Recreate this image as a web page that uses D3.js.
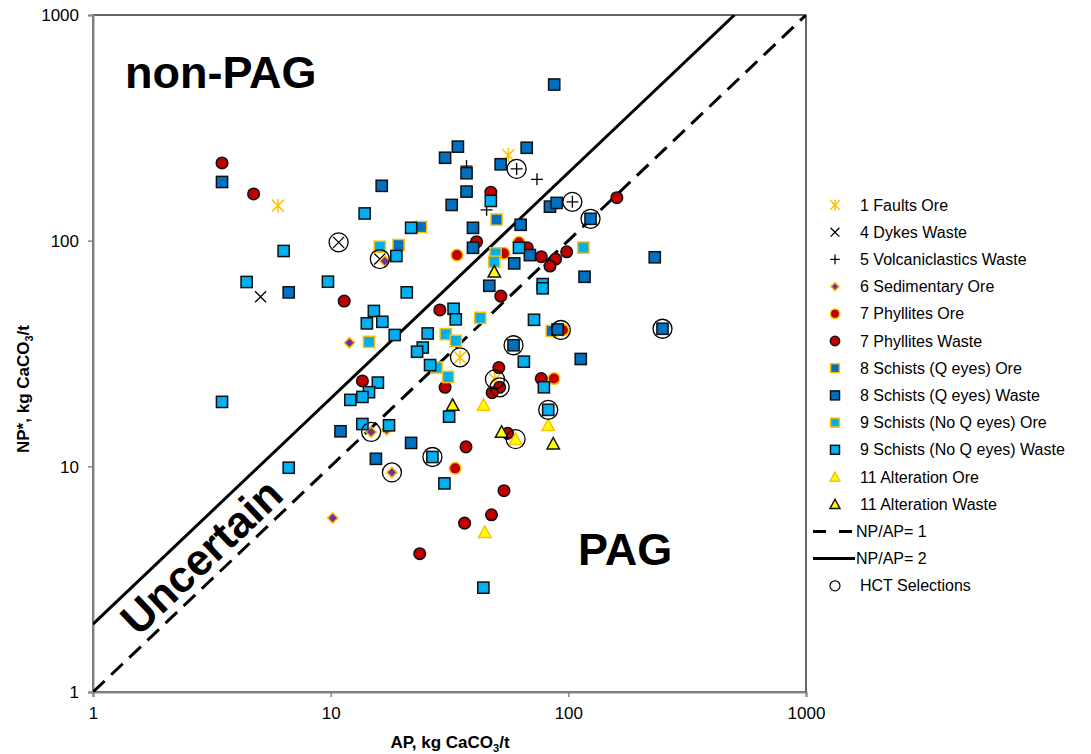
<!DOCTYPE html>
<html><head><meta charset="utf-8">
<script src="https://cdn.jsdelivr.net/npm/d3@7"></script>
<style>
body{margin:0;background:#fff;}
text{font-family:"Liberation Sans",Arial,sans-serif;}
</style></head>
<body><svg id="c" width="1091" height="754"></svg>
<script>
// ---- data (AP, NP*) in kg CaCO3/t ----
const faultsOre = [[6.0,143],[55.9,239],[35,30.4],[49.1,24.3]];
const dykesWaste = [[5.07,56.4],[10.8,98.3],[16.1,82.9]];
const volcWaste = [[60.6,208],[73.8,187],[37.3,214],[45.3,137],[104,148.6]];
const sedOre = [[16.9,81.2],[12,35.3],[14.8,14.2],[17.2,14.5],[18.1,9.4],[10.2,5.9]];
const phylOre = [[34,86.3],[53.6,87.9],[62,98.3],[94.9,40.2],[87,24.5],[33.4,9.8]];
const phylWaste = [[3.49,221],[4.74,161],[47.2,164],[41.1,98.9],[67.2,93],[76.9,84.9],[88.4,82.9],[83.7,77.2],[98.4,89.3],[160,155],[11.4,54],[28.8,49.3],[52,56.8],[30.3,22.4],[13.6,23.9],[51,27.4],[51.4,22.4],[47.8,21.2],[76.9,24.5],[55.5,14],[37.1,12.2],[53.6,7.8],[47.5,6.1],[36.6,5.6],[23.7,4.1]];
const schQOre = [[49.9,124],[24,115],[19.3,95.6],[85.1,39.8]];
const schQWaste = [[3.49,182],[6.66,59],[87.2,492],[34.3,261],[30.3,233],[66.8,258],[51.9,218],[37.3,199],[37.3,165],[16.4,175],[32.3,144],[39.7,114],[63,117.6],[39.7,93],[68.9,86.3],[59.2,79.3],[83.7,141.5],[89.3,147],[124,125],[231,84.4],[117,69.2],[249,40.7],[112.8,29.9],[90.1,40.4],[46.5,63.1],[58.8,34.4],[11,14.3],[21.8,12.7],[15.5,10.8]];
const schNQOre = [[16.1,94],[49.4,87.9],[48.8,80.7],[115.7,93.2],[14.5,35.6],[42.6,45.5],[30.5,38.5],[33.6,36],[27.9,27.4],[31.2,24.9]];
const schNQWaste = [[6.34,90],[4.43,65.6],[9.74,65.8],[3.49,19.3],[6.66,9.86],[47.2,150],[13.9,132],[21.8,114],[18.9,85.5],[62,93],[20.9,59],[32.9,49.9],[33.6,44.8],[15.2,48.8],[14.2,43],[16.5,43.7],[18.6,38.2],[71.7,44.6],[78,64.2],[78,61.5],[25.6,38.8],[24.4,33.6],[23.1,32.2],[26.2,28.1],[15.8,23.5],[14.5,21.3],[13.6,20.3],[12.1,19.7],[65,29.1],[78.9,22.4],[82.3,17.8],[31.5,16.6],[13.6,15.4],[17.6,15.2],[26.8,11],[30.1,8.4],[43.9,2.9]];
const altOre = [[44,18.7],[82.3,15.2],[60,13.2],[44.5,5.1]];
const altWaste = [[48.8,72.8],[32.6,18.7],[52.4,14.2],[86.4,12.6]];
const hctSelections = [[10.8,98.3],[16.1,82.9],[60.6,208],[104,148.6],[124,125],[249,40.7],[93,40.2],[58.8,34.4],[35,30.4],[49.1,24.3],[51.4,22.4],[82.3,17.8],[60,13.2],[14.8,14.2],[26.8,11],[18.1,9.4]];
const ratioLines = [{label:"NP/AP= 1", ratio:1, dash:"16,9"},{label:"NP/AP= 2", ratio:2, dash:null}];
const axisTicks = [1,10,100,1000];

const BLUE="#0070C0", LBLUE="#00B0F0", RED="#C00000", PURPLE="#7030A0", YEL="#FFFF00", ORG="#FFC000", BLK="#111";

const series = [
  {name:"1 Faults Ore", data:faultsOre, shape:"star", color:ORG},
  {name:"4 Dykes Waste", data:dykesWaste, shape:"x", color:"#000"},
  {name:"5 Volcaniclastics Waste", data:volcWaste, shape:"plus", color:"#000"},
  {name:"6 Sedimentary Ore", data:sedOre, shape:"diamond", fill:PURPLE, stroke:ORG},
  {name:"7 Phyllites Ore", data:phylOre, shape:"circle", fill:RED, stroke:ORG},
  {name:"7 Phyllites Waste", data:phylWaste, shape:"circle", fill:RED, stroke:BLK},
  {name:"8 Schists (Q eyes) Ore", data:schQOre, shape:"square", fill:BLUE, stroke:ORG},
  {name:"8 Schists (Q eyes) Waste", data:schQWaste, shape:"square", fill:BLUE, stroke:BLK},
  {name:"9 Schists (No Q eyes) Ore", data:schNQOre, shape:"square", fill:LBLUE, stroke:ORG},
  {name:"9 Schists (No Q eyes) Waste", data:schNQWaste, shape:"square", fill:LBLUE, stroke:BLK},
  {name:"11 Alteration Ore", data:altOre, shape:"triangle", fill:YEL, stroke:ORG},
  {name:"11 Alteration Waste", data:altWaste, shape:"triangle", fill:YEL, stroke:BLK}
];

const svg = d3.select("#c");
const L=93, R=806, T=15, B=692;
const x = d3.scaleLog().domain([1,1000]).range([L,R]);
const y = d3.scaleLog().domain([1,1000]).range([B,T]);

function drawMarker(g, s, cx, cy, k){
  const h = 5.6*k;
  if(s.shape==="square"){
    g.append("rect").attr("x",cx-h).attr("y",cy-h).attr("width",2*h).attr("height",2*h)
      .attr("fill",s.fill).attr("stroke",s.stroke).attr("stroke-width",1.5);
  } else if(s.shape==="circle"){
    g.append("circle").attr("cx",cx).attr("cy",cy).attr("r",h+0.2)
      .attr("fill",s.fill).attr("stroke",s.stroke).attr("stroke-width",1.5);
  } else if(s.shape==="triangle"){
    const w=6.2*k;
    g.append("path").attr("d",`M${cx},${cy-w}L${cx+w},${cy+w*0.85}L${cx-w},${cy+w*0.85}Z`)
      .attr("fill",s.fill).attr("stroke",s.stroke).attr("stroke-width",1.5).attr("stroke-linejoin","miter");
  } else if(s.shape==="diamond"){
    const w=5.2*k;
    g.append("path").attr("d",`M${cx},${cy-w}L${cx+w},${cy}L${cx},${cy+w}L${cx-w},${cy}Z`)
      .attr("fill",s.fill).attr("stroke",s.stroke).attr("stroke-width",1.5);
  } else if(s.shape==="x"){
    const w=5.5*k;
    g.append("path").attr("d",`M${cx-w},${cy-w}L${cx+w},${cy+w}M${cx-w},${cy+w}L${cx+w},${cy-w}`)
      .attr("stroke",s.color).attr("stroke-width",1.3).attr("fill","none");
  } else if(s.shape==="plus"){
    const w=6*k;
    g.append("path").attr("d",`M${cx-w},${cy}L${cx+w},${cy}M${cx},${cy-w}L${cx},${cy+w}`)
      .attr("stroke",s.color).attr("stroke-width",1.3).attr("fill","none");
  } else if(s.shape==="star"){
    const w=6*k;
    g.append("path").attr("d",`M${cx-w},${cy-w}L${cx+w},${cy+w}M${cx-w},${cy+w}L${cx+w},${cy-w}M${cx},${cy-w*1.15}L${cx},${cy+w*1.15}`)
      .attr("stroke",s.color).attr("stroke-width",1.5).attr("fill","none");
  }
}

// frame
svg.append("rect").attr("x",L).attr("y",T).attr("width",R-L).attr("height",B-T)
  .attr("fill","none").attr("stroke","#000").attr("stroke-width",1.2);

// axes
const xAxis = svg.append("g").attr("transform",`translate(0,${B})`)
  .call(d3.axisBottom(x).tickValues(axisTicks).tickFormat(d3.format("d")).tickSize(5).tickPadding(10));
const yAxis = svg.append("g").attr("transform",`translate(${L},0)`)
  .call(d3.axisLeft(y).tickValues(axisTicks).tickFormat(d3.format("d")).tickSize(5).tickPadding(9));
[xAxis,yAxis].forEach(a=>{
  a.select(".domain").attr("stroke","#868686").attr("stroke-width",2);
  a.selectAll(".tick line").attr("stroke","#868686").attr("stroke-width",1.5);
  a.selectAll(".tick text").attr("font-size",17).attr("fill","#000").attr("font-family","Liberation Sans, Arial, sans-serif");
});
yAxis.selectAll(".tick text").attr("dy","0.34em");

// clip for lines
svg.append("clipPath").attr("id","clip").append("rect").attr("x",L).attr("y",T).attr("width",R-L).attr("height",B-T);

// ratio lines
const lineGen = d3.line().x(d=>x(d[0])).y(d=>y(d[1]));
ratioLines.forEach(r=>{
  const pts = [[1, r.ratio],[1000/r.ratio, 1000]];
  const p = svg.append("path").attr("clip-path","url(#clip)").attr("d",lineGen(pts))
    .attr("stroke","#000").attr("stroke-width",3).attr("fill","none");
  if(r.dash) p.attr("stroke-dasharray",r.dash);
});

// markers
const mg = svg.append("g");
series.forEach(s=>{
  s.data.forEach(d=>{ drawMarker(mg, s, x(d[0]), y(d[1]), 1); });
});
// HCT selections
mg.selectAll("circle.hct").data(hctSelections).join("circle").attr("class","hct")
  .attr("cx",d=>x(d[0])).attr("cy",d=>y(d[1])).attr("r",9.5)
  .attr("fill","none").attr("stroke","#000").attr("stroke-width",1.3);

// region labels
svg.append("text").attr("x",125).attr("y",88).attr("font-size",45).attr("font-weight","bold").text("non-PAG");
svg.append("text").attr("x",578).attr("y",565).attr("font-size",45).attr("font-weight","bold").text("PAG");
const ang = -Math.atan((y(1)-y(10))/(x(10)-x(1)))*180/Math.PI;
svg.append("text").attr("transform",`translate(201,556) rotate(${ang})`).attr("text-anchor","middle")
  .attr("dy","0.36em").attr("font-size",44).attr("font-weight","bold").text("Uncertain");

// axis titles
const xt = svg.append("text").attr("x",450).attr("y",748).attr("text-anchor","middle").attr("font-size",17).attr("font-weight","bold");
xt.append("tspan").text("AP, kg CaCO");
xt.append("tspan").attr("font-size",11).attr("dy",4).text("3");
xt.append("tspan").attr("dy",-4).text("/t");
const yt = svg.append("text").attr("transform","translate(29,389) rotate(-90)").attr("text-anchor","middle").attr("font-size",17).attr("font-weight","bold");
yt.append("tspan").text("NP*, kg CaCO");
yt.append("tspan").attr("font-size",11).attr("dy",4).text("3");
yt.append("tspan").attr("dy",-4).text("/t");

// legend
const lg = svg.append("g");
const rowH = 27.2, ly0 = 205;
series.forEach((s,i)=>{
  const cy = ly0 + i*rowH;
  drawMarker(lg, s, 835, cy, 0.8);
  lg.append("text").attr("x",860).attr("y",cy).attr("dy","0.35em").attr("font-size",16).text(s.name);
});
ratioLines.forEach((r,j)=>{
  const cy = ly0 + (series.length+j)*rowH;
  const p = lg.append("line").attr("x1",813).attr("x2",r.dash?852:855).attr("y1",cy).attr("y2",cy)
    .attr("stroke","#000").attr("stroke-width",3);
  if(r.dash) p.attr("stroke-dasharray","13,13");
  lg.append("text").attr("x",856).attr("y",cy).attr("dy","0.35em").attr("font-size",16).text(r.label);
});
{
  const cy = ly0 + (series.length+2)*rowH;
  lg.append("circle").attr("cx",835).attr("cy",cy).attr("r",5).attr("fill","none").attr("stroke","#000").attr("stroke-width",1.2);
  lg.append("text").attr("x",860).attr("y",cy).attr("dy","0.35em").attr("font-size",16).text("HCT Selections");
}
</script></body></html>
